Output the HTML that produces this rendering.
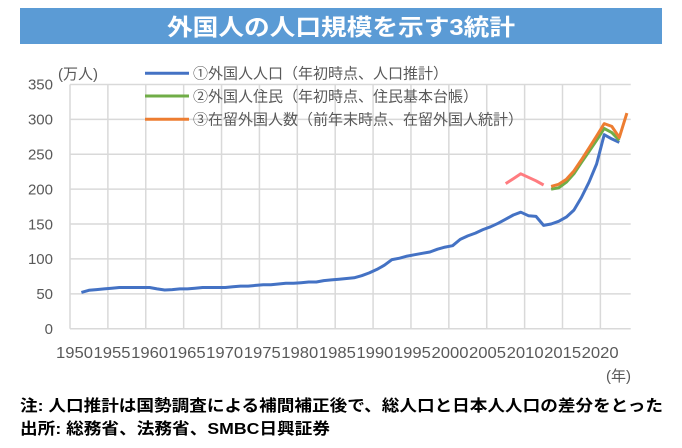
<!DOCTYPE html>
<html><head><meta charset="utf-8"><style>
body{margin:0;width:682px;height:448px;background:#fff;overflow:hidden;font-family:"Liberation Sans","Noto Sans CJK JP",sans-serif}
</style></head><body>
<svg id="s" width="682" height="448" viewBox="0 0 682 448" xmlns="http://www.w3.org/2000/svg" style="position:absolute;left:0;top:0">
<rect x="20" y="8" width="642" height="36" fill="#5b9bd5"/>
<text x="167" y="35" font-size="23" font-weight="bold" fill="#fff" textLength="348" lengthAdjust="spacingAndGlyphs">外国人の人口規模を示す3統計</text>
<g id="grid" stroke="#d9d9d9" stroke-width="1.5"></g>
<g font-size="15" fill="#595959" text-anchor="end">
<text x="53" y="89.5">350</text><text x="53" y="124.5">300</text><text x="53" y="159.5">250</text><text x="53" y="194.5">200</text><text x="53" y="229.5">150</text><text x="53" y="264">100</text><text x="53" y="299">50</text><text x="53" y="334">0</text>
</g>
<text x="58" y="79" font-size="15" fill="#595959">(万人)</text>
<g id="xl" font-size="16" fill="#595959"></g>
<text x="606" y="381" font-size="15" fill="#595959">(年)</text>
<g id="lines" fill="none" stroke-width="3" stroke-linejoin="round"></g>
<g stroke-width="3">
<line x1="145" y1="73.3" x2="189" y2="73.3" stroke="#4472c4"/>
<line x1="145" y1="96" x2="189" y2="96" stroke="#70ad47"/>
<line x1="145" y1="119.3" x2="189" y2="119.3" stroke="#ed7d31"/>
</g>
<g font-size="15" fill="#595959">
<text x="193" y="78.5">①外国人人口（年初時点、人口推計）</text>
<text x="193" y="101.5">②外国人住民（年初時点、住民基本台帳）</text>
<text x="193" y="124.5" textLength="330" lengthAdjust="spacingAndGlyphs">③在留外国人数（前年末時点、在留外国人統計）</text>
</g>
<g font-size="16" font-weight="bold" fill="#000">
<text x="20" y="411" textLength="643" lengthAdjust="spacingAndGlyphs">注: 人口推計は国勢調査による補間補正後で、総人口と日本人人口の差分をとった</text>
<text x="20" y="434" textLength="310" lengthAdjust="spacingAndGlyphs">出所: 総務省、法務省、SMBC日興証券</text>
</g>
</svg>
<script>
var NS="http://www.w3.org/2000/svg";
function el(t,a,p){var e=document.createElementNS(NS,t);for(var k in a)e.setAttribute(k,a[k]);p.appendChild(e);return e;}
var g=document.getElementById('grid'),L=70,R=630.7,Y0=328.7,K=0.6977,W=(R-L)/74;
for(var v=0;v<=350;v+=50){var y=Y0-v*K;el('line',{x1:L,x2:R,y1:y,y2:y},g);}
for(var k=0;k<=14;k++){var x=L+k*5*W;el('line',{x1:x,x2:x,y1:Y0-350*K,y2:Y0},g);}
var xl=document.getElementById('xl');
for(var k=0;k<15;k++){var t=el('text',{x:56+k*37.55,y:358,textLength:37,lengthAdjust:'spacingAndGlyphs'},xl);t.textContent=String(1950+5*k);}
function X(i){return L+W*(i+0.5);}function Yv(v){return Y0-v*K;}
var blue=[52,55,56,57,58,59,59,59,59,59,57,55.5,56,57,57,58,59,59,59,59,60,61,61,62,63,63,64,65,65,66,67,67,69,70,71,72,73,76,80,85,91,99,101,104,106,108,110,114,117,119,128,133,137,142,146,151,157,163,167,162,161,148,150,154,160,170,188,210,236,278,272,267];
var series=[["#4472c4",1,blue],["#ff7c80",57,[208,215,222,217,212,206]],["#70ad47",63,[200,202,210,222,238,254,270,287,281,270]],["#ed7d31",63,[204,207,214,226,242,259,276,294,290,274,309]]];
var lg=document.getElementById('lines');
series.forEach(function(s){var p=s[2].map(function(v,j){return X(s[1]+j).toFixed(1)+','+Yv(v).toFixed(1);}).join(' ');el('polyline',{points:p,stroke:s[0]},lg);});
</script>
</body></html>
